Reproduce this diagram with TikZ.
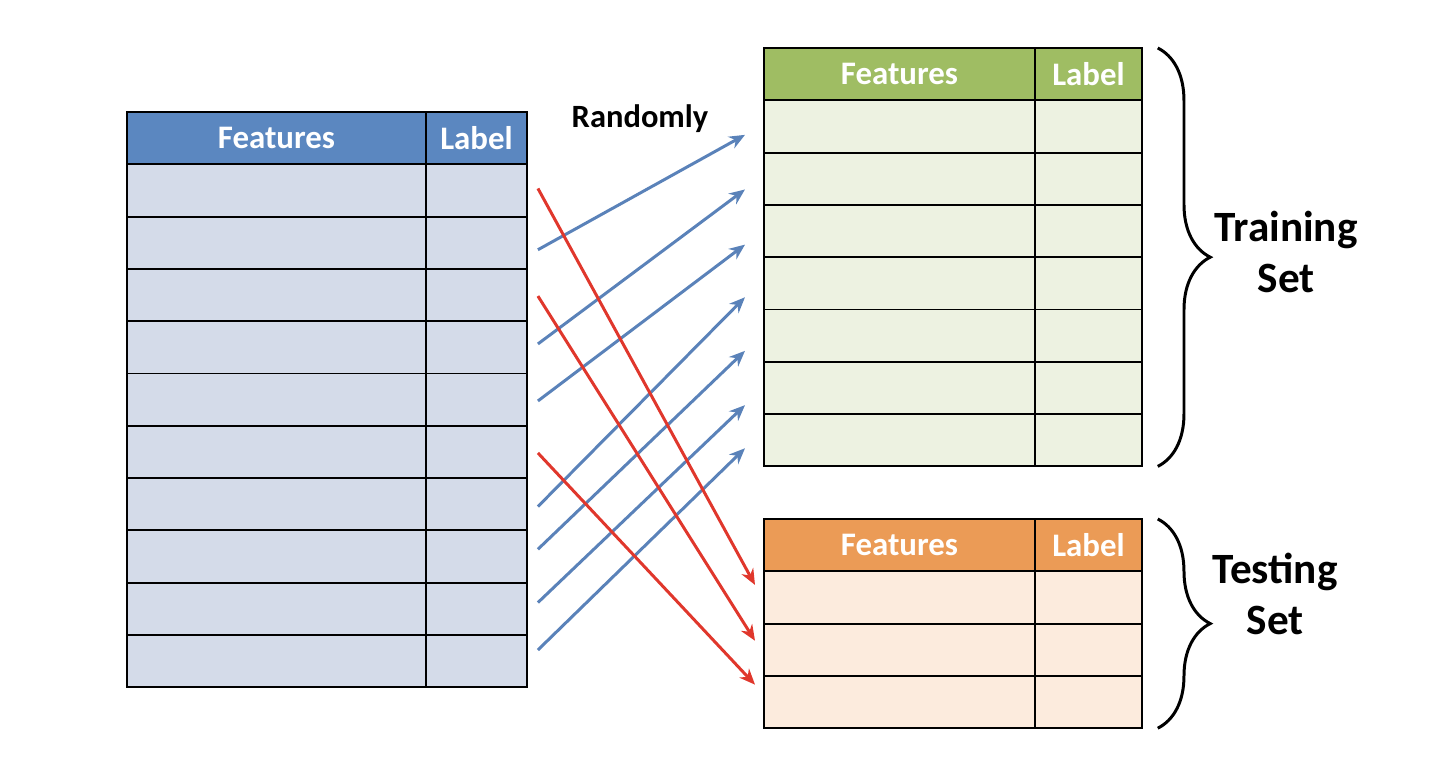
\documentclass[tikz,border=0pt]{standalone}
\usepackage{fontspec}
\setmainfont{Carlito}
\usepackage{tikz}
\usetikzlibrary{arrows.meta,decorations.pathreplacing}

\definecolor{srchead}{HTML}{5B87C0}
\definecolor{srcrow}{HTML}{D4DBE9}
\definecolor{trnhead}{HTML}{9FBD63}
\definecolor{trnrow}{HTML}{EDF2E1}
\definecolor{tsthead}{HTML}{EB9B56}
\definecolor{tstrow}{HTML}{FCEBDD}
\definecolor{arrblue}{HTML}{5A82B9}
\definecolor{arrred}{HTML}{E0372C}

\tikzset{
  cell/.style={draw=black,line width=1.1pt,anchor=north west,minimum height=1.046cm,inner sep=0pt,outer sep=0pt},
  headtext/.style={text=white,font=\bfseries\fontsize{18.7}{22}\selectfont},
  bluearrow/.style={arrblue,line width=1.7pt,-{Stealth[length=9pt,width=7.5pt]}},
  redarrow/.style={arrred,line width=1.7pt,-{Stealth[length=9pt,width=7.5pt]}},
  setbrace/.style={line width=1.7pt,decorate,decoration={brace,amplitude=1.05cm}},
  settext/.style={align=center,font=\bfseries\fontsize{24.6}{29.5}\selectfont}
}

\begin{document}
\begin{tikzpicture}[x=0.02cm,y=-0.02cm]
\useasboundingbox (0,0) rectangle (1433,758);
\pgfmathsetmacro{\rowh}{52.3}
% Full data set
\node[cell,fill=srchead,minimum width=5.98cm,headtext] (src-f0) at (127,112) {Features};
\node[cell,fill=srchead,minimum width=2.02cm,headtext] (src-l0) at (src-f0.north east) {Label};
\foreach \r in {1,...,10}{
  \node[cell,fill=srcrow,minimum width=5.98cm] (src-f\r) at (127,{112+\r*\rowh}) {};
  \node[cell,fill=srcrow,minimum width=2.02cm] (src-l\r) at (src-f\r.north east) {};
}
% Training set
\node[cell,fill=trnhead,minimum width=5.42cm,headtext] (trn-f0) at (764,48) {Features};
\node[cell,fill=trnhead,minimum width=2.14cm,headtext] (trn-l0) at (trn-f0.north east) {Label};
\foreach \r in {1,...,7}{
  \node[cell,fill=trnrow,minimum width=5.42cm] (trn-f\r) at (764,{48+\r*\rowh}) {};
  \node[cell,fill=trnrow,minimum width=2.14cm] (trn-l\r) at (trn-f\r.north east) {};
}
% Testing set
\node[cell,fill=tsthead,minimum width=5.42cm,headtext] (tst-f0) at (764,519) {Features};
\node[cell,fill=tsthead,minimum width=2.14cm,headtext] (tst-l0) at (tst-f0.north east) {Label};
\foreach \r in {1,...,3}{
  \node[cell,fill=tstrow,minimum width=5.42cm] (tst-f\r) at (764,{519+\r*\rowh}) {};
  \node[cell,fill=tstrow,minimum width=2.14cm] (tst-l\r) at (tst-f\r.north east) {};
}
\node[font=\bfseries\fontsize{18.5}{22}\selectfont] (random) at (640,119) {Randomly};
% Arrows
\foreach \s/\a/\t/\b in {2/7/1/8.4,4/-3.4/2/10.7,5/1.3/3/13.6,7/2.3/4/13.9,8/-7.3/5/15.2,9/-6.3/6/17.2,10/-11.2/7/8}
  \draw[bluearrow] ([shift={(11,\a)}]src-l\s.east) -- ([shift={(-19,\b)}]trn-f\t.west);
\foreach \s/\a/\t/\b in {1/-2/1/-12.5,3/1/2/-9,6/1/3/-17.4}
  \draw[redarrow] ([shift={(11,\a)}]src-l\s.east) -- ([shift={(-9,\b)}]tst-f\t.west);
% Braces
\draw[setbrace] ([xshift=9]trn-l0.north east) -- ([xshift=9]trn-l7.south east);
\draw[setbrace] ([xshift=9]tst-l0.north east) -- ([xshift=9]tst-l3.south east);
\node[settext] (training) at (1286,252) {Training\\Set};
\node[settext] (testing) at (1275,594) {Testing\\Set};
\end{tikzpicture}
\end{document}
